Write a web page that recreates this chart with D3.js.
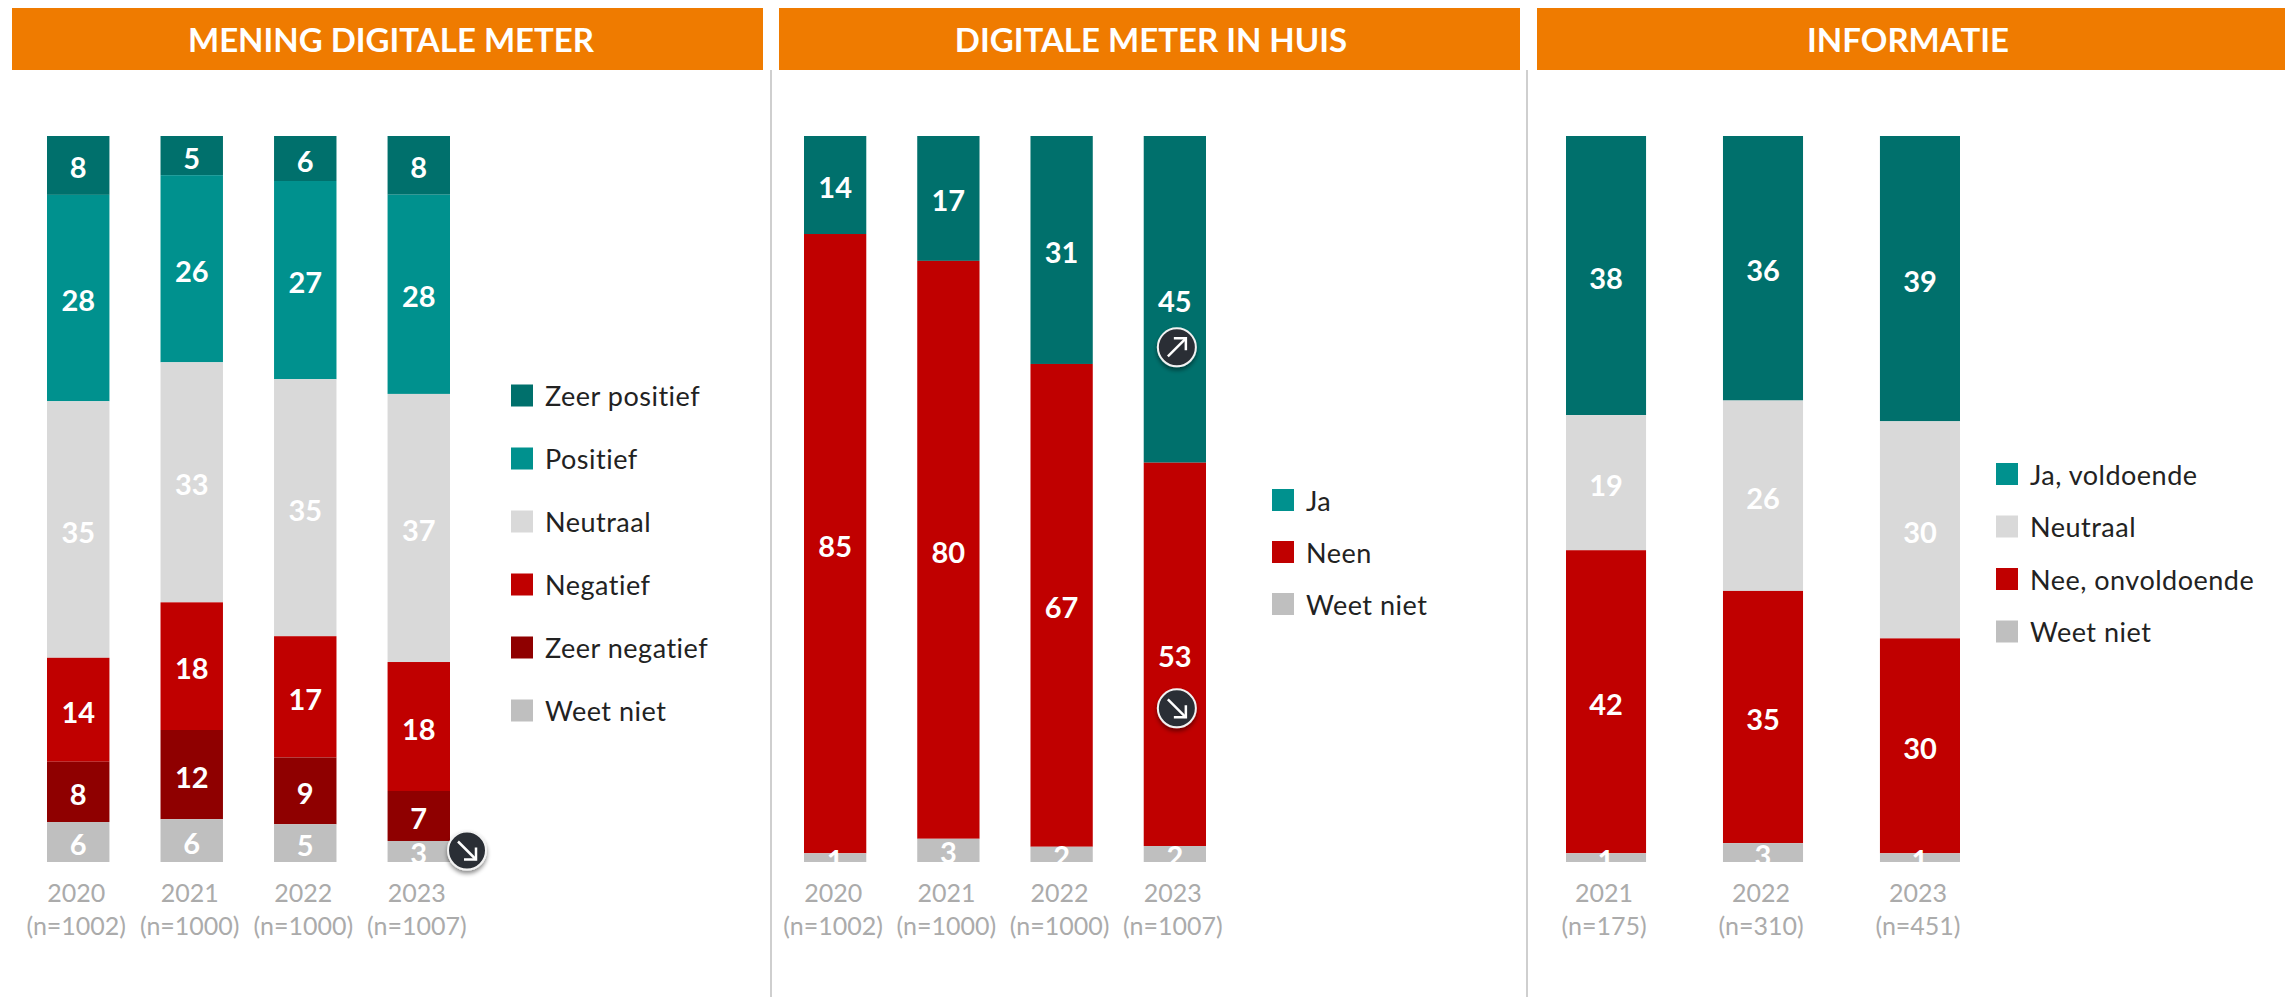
<!DOCTYPE html>
<html>
<head>
<meta charset="utf-8">
<title>Digitale meter</title>
<script src="https://d3js.org/d3.v7.min.js"></script>
<style>
  html, body { margin: 0; padding: 0; background: #fff; }
  svg { display: block; font-family: Lato, "Open Sans", sans-serif; }
  .head { fill: #fff; font-weight: 700; font-size: 33px; text-anchor: middle; dominant-baseline: central; }
  .val { fill: #fff; font-weight: 700; font-size: 29px; text-anchor: middle; dominant-baseline: central; }
  .leg { fill: #222; font-size: 27px; letter-spacing: 0.5px; dominant-baseline: central; }
  .axis text { fill: #ababab; font-size: 25px; font-family: Lato, "Open Sans", sans-serif; }
</style>
</head>
<body>
<svg width="2285" height="997"></svg>
<script>
// percentages, label = rounded value
var meningYears = ["2020", "2021", "2022", "2023"];
var meningN = [1002, 1000, 1000, 1007];
var meningKeys = ["Zeer positief", "Positief", "Neutraal", "Negatief", "Zeer negatief", "Weet niet"];
var meningZeerPositief = [8.1, 5.4, 6.2, 8.1];
var meningPositief = [28.4, 25.8, 27.3, 27.5];
var meningNeutraal = [35.3, 33.1, 35.4, 37.0];
var meningNegatief = [14.3, 17.6, 16.7, 17.8];
var meningZeerNegatief = [8.3, 12.3, 9.2, 6.9];
var meningWeetNiet = [5.5, 5.9, 5.2, 2.9];

var huisYears = ["2020", "2021", "2022", "2023"];
var huisN = [1002, 1000, 1000, 1007];
var huisKeys = ["Ja", "Neen", "Weet niet"];
var huisJa = [13.5, 17.2, 31.4, 45.0];
var huisNeen = [85.3, 79.6, 66.5, 52.8];
var huisWeetNiet = [1.2, 3.2, 2.1, 2.2];

var infoYears = ["2021", "2022", "2023"];
var infoN = [175, 310, 451];
var infoKeys = ["Ja, voldoende", "Neutraal", "Nee, onvoldoende", "Weet niet"];
var infoJa = [38.4, 36.4, 39.3];
var infoNeutraal = [18.6, 26.2, 29.9];
var infoNee = [41.7, 34.7, 29.6];
var infoWeetNiet = [1.2, 2.6, 1.2];

var darkTeal = "#00706c", teal = "#00918e", neutral = "#d9d9d9",
    red = "#c00000", darkRed = "#8f0000", grey = "#bfbfbf";

var svg = d3.select("svg");

var shadow = svg.append("defs").append("filter").attr("id", "shadow")
    .attr("x", "-30%").attr("y", "-30%").attr("width", "160%").attr("height", "170%");
shadow.append("feDropShadow").attr("dx", 0).attr("dy", 3).attr("stdDeviation", 2)
    .attr("flood-color", "#000").attr("flood-opacity", 0.45);

var y = d3.scaleLinear().domain([0, 1]).range([136, 862]);

function table(years, keys, columns) {
  return years.map(function (year, i) {
    var row = { year: year };
    keys.forEach(function (k, j) { row[k] = columns[j][i]; });
    return row;
  });
}

function drawPanel(p) {
  svg.append("rect").attr("x", p.head[0]).attr("y", 8)
     .attr("width", p.head[1] - p.head[0]).attr("height", 62)
     .attr("fill", "#ef7b00");
  svg.append("text").attr("class", "head")
     .attr("x", p.titleX).attr("y", 39).text(p.title);

  var x = d3.scaleBand().domain(p.years).range(p.range).paddingInner(p.inner);
  var rows = table(p.years, p.keys, p.columns);
  var series = d3.stack().keys(p.keys).offset(d3.stackOffsetExpand)(rows);

  var g = svg.append("g").selectAll("g").data(series).enter().append("g")
      .attr("fill", function (s, i) { return p.colors[i]; });

  g.selectAll("rect").data(function (s) { return s; }).enter().append("rect")
      .attr("x", function (d) { return x(d.data.year); })
      .attr("y", function (d) { return y(d[0]); })
      .attr("width", x.bandwidth())
      .attr("height", function (d) { return y(d[1]) - y(d[0]); });

  // white labels, the part over the white page just disappears like in the source
  series.forEach(function (s) {
    svg.append("g").selectAll("text").data(s).enter().append("text")
        .attr("class", "val")
        .attr("x", function (d) { return x(d.data.year) + x.bandwidth() / 2; })
        .attr("y", function (d) { return y((d[0] + d[1]) / 2) + 1.5; })
        .text(function (d) { return Math.round(d.data[s.key]); });
  });

  var axis = svg.append("g").attr("class", "axis")
      .attr("transform", "translate(-2,862)")
      .call(d3.axisBottom(x).tickSize(0).tickPadding(0));
  axis.select(".domain").remove();
  axis.selectAll("text").each(function (d, i) {
    var t = d3.select(this).text(null).attr("y", null).attr("dy", null);
    t.append("tspan").attr("x", 0).attr("y", 40).text(d);
    t.append("tspan").attr("x", 0).attr("y", 73).text("(n=" + p.n[i] + ")");
  });

  var leg = svg.append("g").selectAll("g").data(p.keys).enter().append("g")
      .attr("transform", function (d, i) {
        return "translate(" + p.legendX + "," + (p.legendY + i * p.legendStep) + ")";
      });
  leg.append("rect").attr("y", -11).attr("width", 22).attr("height", 22)
     .attr("fill", function (d, i) { return p.swatches[i]; });
  leg.append("text").attr("class", "leg").attr("x", 34).attr("y", 0)
     .text(function (d) { return d; });

  p.x = x;
  p.series = series;
}

// dark round trend marker, arrow points down-right unless rising
function trend(cx, cy, up) {
  var m = svg.append("g").attr("transform", "translate(" + cx + "," + cy + ")");
  m.append("circle").attr("r", 19).attr("fill", "#2b2f36")
   .attr("stroke", "#f2f2f2").attr("stroke-width", 2).attr("filter", "url(#shadow)");
  var a = m.append("g").attr("transform", up ? "rotate(-90)" : null)
      .attr("fill", "none").attr("stroke", "#fff").attr("stroke-width", 2.5);
  a.append("line").attr("x1", -9).attr("y1", -9).attr("x2", 9).attr("y2", 9);
  a.append("polyline").attr("points", "-3,9 9,9 9,-3");
}

var mening = {
  title: "MENING DIGITALE METER", head: [12, 763], titleX: 391,
  years: meningYears, n: meningN, keys: meningKeys,
  columns: [meningZeerPositief, meningPositief, meningNeutraal, meningNegatief, meningZeerNegatief, meningWeetNiet],
  colors: [darkTeal, teal, neutral, red, darkRed, grey],
  swatches: [darkTeal, teal, neutral, red, darkRed, grey],
  range: [47, 450], inner: 0.45,
  legendX: 511, legendY: 395.5, legendStep: 63
};
var huis = {
  title: "DIGITALE METER IN HUIS", head: [779, 1520], titleX: 1151,
  years: huisYears, n: huisN, keys: huisKeys,
  columns: [huisJa, huisNeen, huisWeetNiet],
  colors: [darkTeal, red, grey],
  swatches: [teal, red, grey],
  range: [804, 1206], inner: 0.45,
  legendX: 1272, legendY: 500, legendStep: 52
};
var info = {
  title: "INFORMATIE", head: [1537, 2285], titleX: 1908,
  years: infoYears, n: infoN, keys: infoKeys,
  columns: [infoJa, infoNeutraal, infoNee, infoWeetNiet],
  colors: [darkTeal, neutral, red, grey],
  swatches: [teal, neutral, red, grey],
  range: [1566, 1960], inner: 0.49,
  legendX: 1996, legendY: 474, legendStep: 52.5
};

// dividers between the panels
svg.selectAll("line.divider").data([771, 1527]).enter().append("line")
   .attr("class", "divider")
   .attr("x1", function (d) { return d; }).attr("x2", function (d) { return d; })
   .attr("y1", 70).attr("y2", 997)
   .attr("stroke", "#cfcfcf").attr("stroke-width", 2);

[mening, huis, info].forEach(drawPanel);

function mid(p, key, year) {
  var s = p.series[p.keys.indexOf(key)][p.years.indexOf(year)];
  return y((s[0] + s[1]) / 2);
}
var c23 = huis.x("2023") + huis.x.bandwidth() / 2 + 2;
trend(mening.x("2023") + mening.x.bandwidth() + 17, mid(mening, "Weet niet", "2023") - 1, false);
trend(c23, mid(huis, "Ja", "2023") + 48, true);
trend(c23, mid(huis, "Neen", "2023") + 54, false);
</script>
</body>
</html>
